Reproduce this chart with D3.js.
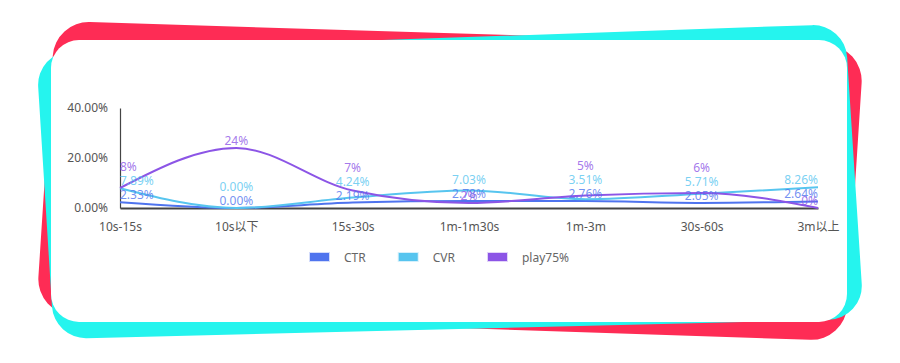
<!DOCTYPE html>
<html lang="zh">
<head>
<meta charset="UTF-8">
<title>视频时长数据</title>
<script src="https://d3js.org/d3.v7.min.js"></script>
<style>
  body { margin: 0; background: #fff; }
  svg { display: block; font-family: "Noto Sans", "Noto Sans CJK SC", sans-serif; }
  .axis text { fill: #555; font-size: 12px; font-family: "Noto Sans", "Noto Sans CJK SC", sans-serif; }
  .legend-text { fill: #666; font-size: 12px; }
  .value-label { font-size: 12px; }
</style>
</head>
<body>
<svg id="chart" width="900" height="363"></svg>
<script>
  const categories = ["10s-15s", "10s以下", "15s-30s", "1m-1m30s", "1m-3m", "30s-60s", "3m以上"];
  const ctr = [2.33, 0, 2.19, 2.78, 2.76, 2.05, 2.64];
  const cvr = [7.89, 0, 4.24, 7.03, 3.51, 5.71, 8.26];
  const play75 = [8, 24, 7, 2, 5, 6, 0];
  const seriesNames = ["CTR", "CVR", "play75%"];
  const yTicks = [0, 20, 40];

  const seriesColors = ["#4f74ee", "#57c5ef", "#8c55e6"];
  const labelFormats = [d => d.toFixed(2) + "%", d => d.toFixed(2) + "%", d => d + "%"];

  const svg = d3.select("#chart");

  // frame: red and cyan tilted cards behind a white one
  function roundedPoly(pts, r) {
    const p = d3.path();
    const n = pts.length;
    const a = pts[n - 1], b = pts[0];
    p.moveTo((a[0] + b[0]) / 2, (a[1] + b[1]) / 2);
    for (let i = 0; i < n; i++) {
      const cur = pts[i], next = pts[(i + 1) % n];
      p.arcTo(cur[0], cur[1], next[0], next[1], r);
    }
    p.closePath();
    return p.toString();
  }

  svg.append("path")
    .attr("d", roundedPoly([[55, 21], [864, 46], [845, 341], [36, 314]], 36))
    .attr("fill", "#fe2c55");
  svg.append("path")
    .attr("d", roundedPoly([[36, 52], [845, 24], [864, 319], [54, 339]], 34))
    .attr("fill", "#25f4ee");
  svg.append("rect")
    .attr("x", 51).attr("y", 40)
    .attr("width", 796).attr("height", 282)
    .attr("rx", 28)
    .attr("fill", "#fff");

  // scales
  const x = d3.scalePoint().domain(categories).range([120, 818]);
  const y = d3.scaleLinear().domain([0, 40]).range([208, 108]);

  // axes
  const yAxis = svg.append("g")
    .attr("class", "axis")
    .attr("transform", "translate(120,0)")
    .call(d3.axisLeft(y).tickValues(yTicks).tickFormat(d => d.toFixed(2) + "%")
      .tickSize(0).tickPadding(12));
  yAxis.select(".domain").attr("stroke", "#444").attr("stroke-width", 1.2);

  const xAxis = svg.append("g")
    .attr("class", "axis")
    .attr("transform", "translate(0,208)")
    .call(d3.axisBottom(x).tickSize(0).tickPadding(14));
  xAxis.select(".domain").attr("stroke", "#444").attr("stroke-width", 1.8);

  // lines
  const series = [ctr, cvr, play75];
  const line = d3.line()
    .x((d, i) => x(categories[i]))
    .y(d => y(d))
    .curve(d3.curveMonotoneX);

  series.forEach((vals, s) => {
    svg.append("path")
      .datum(vals)
      .attr("fill", "none")
      .attr("stroke", seriesColors[s])
      .attr("stroke-width", 2)
      .attr("d", line);
  });

  // value labels, each series stacks above the previous one if they collide
  const placed = [];
  series.forEach((vals, s) => {
    placed[s] = [];
    vals.forEach((v, i) => {
      const t = svg.append("text")
        .attr("class", "value-label")
        .attr("fill", seriesColors[s])
        .attr("fill-opacity", 0.8)
        .attr("text-anchor", "middle")
        .text(labelFormats[s](v));
      const w = t.node().getComputedTextLength();
      const cx = Math.max(120 + w / 2, Math.min(818 - w / 2, x(categories[i])));
      let by = y(v) - 3;
      if (s > 0) {
        const prev = placed[s - 1][i];
        const hOverlap = Math.abs(prev.cx - cx) < (prev.w + w) / 2;
        if (hOverlap && Math.abs(prev.by - by) < 13) by = prev.by - 14;
      }
      t.attr("x", cx).attr("y", by);
      placed[s][i] = { cx, by, w };
    });
  });

  // legend
  const legend = svg.append("g").attr("transform", "translate(310,253)");
  let lx = 0;
  seriesNames.forEach((name, s) => {
    legend.append("rect")
      .attr("x", lx).attr("y", 0)
      .attr("width", 19).attr("height", 8)
      .attr("fill", seriesColors[s])
      .attr("stroke", seriesColors[s])
      .attr("stroke-opacity", 0.25)
      .attr("stroke-width", 2);
    const t = legend.append("text")
      .attr("class", "legend-text")
      .attr("x", lx + 34).attr("y", 8.5)
      .text(name);
    lx += 34 + t.node().getComputedTextLength() + 33;
  });
</script>
</body>
</html>
